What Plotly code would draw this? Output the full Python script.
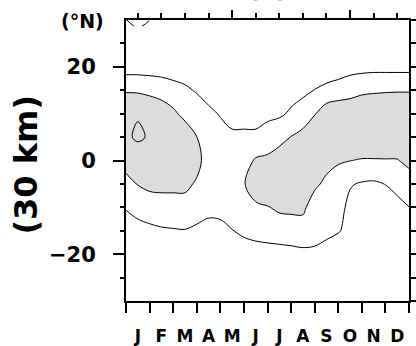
import plotly.graph_objects as go

# Grid: month axis (0.5 = start of Jan, 12.5 = end of Dec) and latitude (deg N)
months = [0.5, 1.0, 1.5, 2.0, 2.5, 3.0, 3.5, 4.0, 4.5, 5.0, 5.5, 6.0, 6.5,
          7.0, 7.5, 8.0, 8.5, 9.0, 9.5, 10.0, 10.5, 11.0, 11.5, 12.0, 12.5]
lats = [-30, -25, -20, -15, -10, -5, 0, 5, 10, 15, 20, 25, 30]

# Field values, one row per latitude (south to north), one value per month column
z_s30 = [0.35, 0.4, 0.42, 0.45, 0.5, 0.52, 0.55, 0.5, 0.5, 0.5, 0.5, 0.45, 0.45,
         0.45, 0.45, 0.5, 0.6, 0.5, 0.45, 0.45, 0.45, 0.45, 0.45, 0.45, 0.45]
z_s25 = [0.4, 0.45, 0.5, 0.55, 0.6, 0.62, 0.62, 0.55, 0.55, 0.58, 0.55, 0.48, 0.5,
         0.48, 0.5, 0.6, 0.75, 0.6, 0.5, 0.5, 0.5, 0.5, 0.48, 0.48, 0.48]
z_s20 = [0.5, 0.55, 0.6, 0.65, 0.7, 0.72, 0.72, 0.6, 0.62, 0.7, 0.614, 0.491, 0.538,
         0.505, 0.7, 0.859, 0.948, 0.674, 0.55, 0.6, 0.6, 0.55, 0.5, 0.5, 0.55]
z_s15 = [0.63, 0.78, 0.845, 0.934, 0.952, 0.967, 0.864, 0.648, 0.723, 0.974, 1.15, 1.4, 1.5,
         1.683, 1.533, 1.3625, 1.1, 1.2, 1.05, 0.8, 0.65, 0.6, 0.52, 0.55, 0.7]
z_s10 = [1.05, 1.22, 1.36, 1.347, 1.429, 1.51, 1.35, 1.3, 1.3, 1.4, 1.6, 1.858, 1.968,
         2.1, 2.2, 2.3, 1.229, 1.45, 1.3, 0.783, 0.7, 0.68, 0.525, 0.7, 0.99]
z_s05 = [1.5, 2.05, 2.3, 2.4, 2.35, 2.3, 1.844, 1.5, 1.55, 1.7, 1.95, 2.45, 2.5,
         2.5, 2.6, 2.6, 2.3, 1.667, 1.544, 1.069, 0.92, 0.862, 1.02, 1.3, 1.49]
z_eq = [2.59, 2.3, 2.6, 2.65, 2.55, 2.55, 2.4, 1.4, 1.5, 1.5, 1.6, 2.109, 2.176,
        2.3, 2.4, 2.5, 2.55, 2.5, 2.1, 2.019, 1.926, 1.926, 1.936, 1.946, 2.263]
z_n05 = [2.8, 3.175, 2.89, 2.75, 2.55, 2.64, 2.01, 1.55, 1.525, 1.2, 1.2, 1.2, 1.5,
         1.8, 2.02, 2.281, 2.575, 2.7, 2.75, 2.6, 2.85, 2.85, 2.85, 2.85, 2.85]
z_n10 = [2.9, 2.91, 2.8, 2.5, 2.2, 1.7, 1.5, 1.3, 0.9, 0.612, 0.612, 0.612, 0.742,
         0.824, 1.15, 1.5, 1.95, 2.589, 2.636, 2.533, 2.6, 2.614, 2.72, 2.69, 2.69]
z_n15 = [1.9, 1.876, 1.747, 1.638, 1.367, 1.15, 0.919, 0.467, 0.5, 0.5, 0.5, 0.5, 0.5,
         0.5, 0.614, 0.765, 1.02, 1.25, 1.5, 1.7, 1.85, 1.9, 1.92, 1.94, 1.94]
z_n20 = [0.54, 0.549, 0.542, 0.5, 0.493, 0.525, 0.55, 0.45, 0.45, 0.45, 0.45, 0.45, 0.45,
         0.45, 0.5, 0.55, 0.52, 0.417, 0.413, 0.606, 0.67, 0.716, 0.71, 0.703, 0.703]
z_n25 = [0.3, 0.32, 0.3, 0.4, 0.45, 0.5, 0.5, 0.45, 0.45, 0.45, 0.45, 0.45, 0.45,
         0.45, 0.45, 0.48, 0.48, 0.45, 0.42, 0.45, 0.45, 0.45, 0.45, 0.45, 0.45]
z_n30 = [0.013, -0.15, -0.01, 0.24, 0.35, 0.42, 0.45, 0.42, 0.42, 0.42, 0.42, 0.42, 0.42,
         0.42, 0.42, 0.45, 0.45, 0.45, 0.42, 0.42, 0.42, 0.42, 0.42, 0.42, 0.42]

month_letters = ["J", "F", "M", "A", "M", "J", "J", "A", "S", "O", "N", "D"]
month_centres = [1, 2, 3, 4, 5, 6, 7, 8, 9, 10, 11, 12]
month_edges = [0.5 + k for k in range(13)]

lat_labels = [-20, 0, 20]
lat_minor = [-25, -15, -10, -5, 5, 10, 15, 25]
lat_all = [-30, -25, -20, -15, -10, -5, 0, 5, 10, 15, 20, 25, 30]

shade_level = 2.0
line_levels = (1.0, 3.0)
neg_level = 0.0

z = [z_s30, z_s25, z_s20, z_s15, z_s10, z_s05, z_eq,
     z_n05, z_n10, z_n15, z_n20, z_n25, z_n30]

FONT = "DejaVu Sans"
black_scale = [[0, "black"], [1, "black"]]
smooth = 1.0

fig = go.Figure()

# shaded region above the upper level (constraint shading covers the
# side that fails the test, so "<" shades z > level), with its outline
fig.add_trace(go.Contour(
    x=months, y=lats, z=z,
    contours=dict(type="constraint", operation="<", value=shade_level),
    fillcolor="#dcdcdc",
    line=dict(color="black", width=1, smoothing=smooth),
    showscale=False, hoverinfo="skip",
))

# plain contour lines
fig.add_trace(go.Contour(
    x=months, y=lats, z=z,
    contours=dict(coloring="lines", start=line_levels[0], end=line_levels[1],
                  size=line_levels[1] - line_levels[0]),
    colorscale=black_scale,
    line=dict(width=1, smoothing=smooth),
    showscale=False, hoverinfo="skip",
))

# dashed contour for the low level
fig.add_trace(go.Contour(
    x=months, y=lats, z=z,
    contours=dict(coloring="lines", start=neg_level, end=neg_level + 0.5, size=1),
    colorscale=black_scale,
    line=dict(width=1, dash="dash", smoothing=smooth),
    showscale=False, hoverinfo="skip",
))

# empty trace carrying the top / right frame axes
fig.add_trace(go.Scatter(x=[None], y=[None], xaxis="x2", yaxis="y2",
                         showlegend=False, hoverinfo="skip"))

axis_common = dict(showgrid=False, zeroline=False, showline=True, automargin=False,
                   linecolor="black", linewidth=2, tickcolor="black")

fig.update_layout(
    width=416, height=346,
    margin=dict(l=126, r=7, t=20, b=45, autoexpand=False),
    paper_bgcolor="white", plot_bgcolor="white",
    showlegend=False,
    xaxis=dict(
        range=[0.5, 12.5], tickmode="array",
        tickvals=month_centres, ticktext=month_letters,
        ticks="", ticklabelstandoff=19,
        tickfont=dict(family=FONT, size=17, color="black", weight="bold"),
        minor=dict(tickmode="array", tickvals=month_edges, ticks="outside",
                   ticklen=10, tickwidth=2, tickcolor="black"),
        **axis_common,
    ),
    xaxis2=dict(
        range=[0.5, 12.5], overlaying="x", side="top", anchor="y",
        tickmode="array", tickvals=[5, 10], ticks="outside", ticklen=8, tickwidth=2,
        showticklabels=False,
        minor=dict(tickmode="array", tickvals=month_centres, ticks="outside",
                   ticklen=5, tickwidth=2, tickcolor="black"),
        **axis_common,
    ),
    yaxis=dict(
        range=[-30, 30], tickmode="array", tickvals=lat_labels,
        ticks="outside", ticklen=11, tickwidth=2, ticklabelstandoff=13,
        tickfont=dict(family=FONT, size=21, color="black", weight="bold"),
        minor=dict(tickmode="array", tickvals=lat_minor, ticks="outside",
                   ticklen=4, tickwidth=2, tickcolor="black"),
        **axis_common,
    ),
    yaxis2=dict(
        range=[-30, 30], overlaying="y", side="right", anchor="x",
        tickmode="array", tickvals=lat_all, ticks="outside", ticklen=5, tickwidth=2,
        showticklabels=False,
        **axis_common,
    ),
    annotations=[
        dict(text="(°N)", xref="paper", yref="paper", x=-0.155, y=0.995,
             xanchor="center", yanchor="middle", showarrow=False,
             font=dict(family=FONT, size=19, color="black", weight="bold")),
        dict(text="(30 km)", xref="paper", yref="paper", x=-0.355, y=0.484,
             xanchor="center", yanchor="middle", textangle=-90, showarrow=False,
             font=dict(family=FONT, size=32, color="black", weight="bold")),
        dict(text="(b)", xref="paper", yref="paper", x=0.5, y=1.0, yshift=15,
             xanchor="center", yanchor="bottom", showarrow=False,
             font=dict(family=FONT, size=24, color="black", weight="bold")),
    ],
)

fig.write_html("out.html")
